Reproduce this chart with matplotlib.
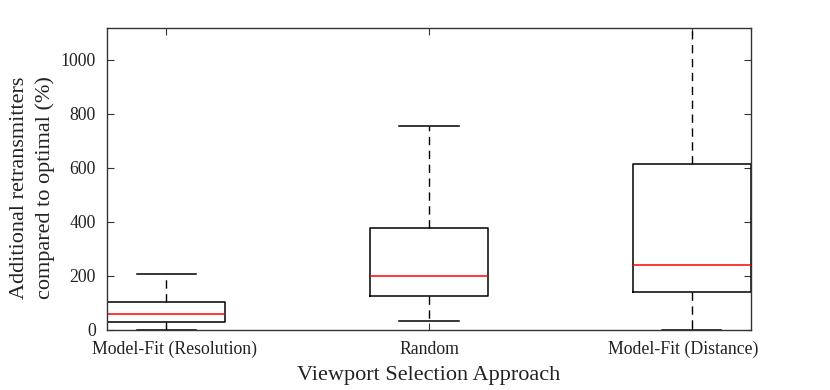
import matplotlib
matplotlib.use('Agg')
import matplotlib.pyplot as plt
from matplotlib.transforms import ScaledTranslation

plt.rcParams['font.family'] = ['Liberation Serif', 'DejaVu Serif']

# box statistics
labels = ['Model-Fit (Resolution)', 'Random', 'Model-Fit (Distance)']
whislo = [0, 33, 0]
q1 = [31, 125, 141]
med = [60, 199, 241]
q3 = [105, 379, 614]
whishi = [208, 757, 1118]

stats = []
for i in range(len(labels)):
    stats.append(dict(label=labels[i], whislo=whislo[i], q1=q1[i], med=med[i],
                      q3=q3[i], whishi=whishi[i], fliers=[]))

fig = plt.figure(figsize=(8.3, 3.9), dpi=100)
ax = fig.add_axes([107 / 830, 60 / 390, 644 / 830, 302 / 390])

ax.bxp(stats, positions=[1, 2, 3], widths=0.45, showfliers=False,
       boxprops=dict(color='black', linewidth=1.1),
       whiskerprops=dict(color='black', linewidth=1.0, linestyle=(0, (6, 4))),
       capprops=dict(color='black', linewidth=1.1),
       medianprops=dict(color='red', linewidth=1.1))

ax.set_xlim(0.775, 3.225)
ax.set_ylim(0, 1118)
ax.set_yticks([0, 200, 400, 600, 800, 1000])
ax.tick_params(direction='in', length=5, width=0.8, labelsize=12.8,
               top=True, right=True, colors='#333333', labelcolor='#222222')
ax.tick_params(axis='y', pad=8)
ax.tick_params(axis='x', pad=8)
for sp in ax.spines.values():
    sp.set_linewidth(1.0)
    sp.set_color('#333333')

# outer tick labels sit a little inward, like the original
shifts = [8, 0, -9]
for lab, dx in zip(ax.get_xticklabels(), shifts):
    lab.set_transform(lab.get_transform() + ScaledTranslation(dx / 100, 0, fig.dpi_scale_trans))

ax.set_xlabel('Viewport Selection Approach', fontsize=16, color='#222222')
ax.xaxis.set_label_coords(0.5, -0.118)
ax.set_ylabel('Additional retransmitters\ncompared to optimal (%)', fontsize=16,
              color='#222222', linespacing=1.4)
ax.yaxis.set_label_coords(-0.081, 0.47)

plt.savefig('out.png', dpi=100)
plt.close()
